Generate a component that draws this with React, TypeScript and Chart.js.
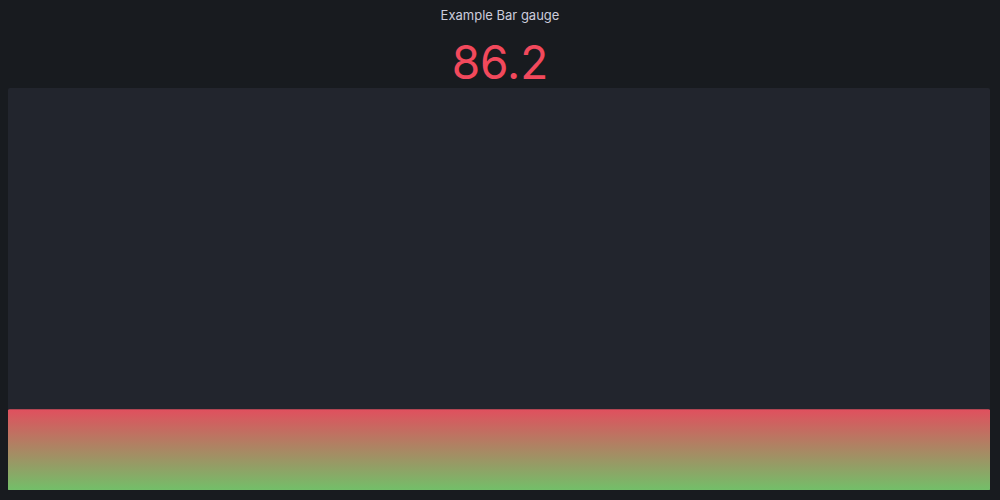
import React, { useRef, useEffect } from 'react';
import { Chart, registerables } from 'chart.js';

Chart.register(...registerables);

const categories = ['A-series'];
const values = [86.2];
const title = 'Example Bar gauge';
const displayValue = '86.2';
// scale max chosen so the bar fills the same share of the panel as in the reference
const scaleMax = 431;

export default function App() {
    const canvasRef = useRef<HTMLCanvasElement>(null);

    useEffect(() => {
        document.body.style.margin = '0';
        const canvas = canvasRef.current;
        if (!canvas) return;
        const chart = new Chart(canvas, {
            type: 'bar',
            data: {
                labels: categories,
                datasets: [{
                    data: values,
                    barPercentage: 1,
                    categoryPercentage: 1,
                    borderRadius: 2,
                    borderSkipped: false,
                    backgroundColor: (ctx: any) => {
                        const area = ctx.chart.chartArea;
                        if (!area) return '#e0505e';
                        const yScale = ctx.chart.scales.y;
                        const top = yScale.getPixelForValue(values[0]);
                        const g = ctx.chart.ctx.createLinearGradient(0, area.bottom, 0, top);
                        g.addColorStop(0, '#73bf69');
                        g.addColorStop(1, '#e0505e');
                        return g;
                    },
                }],
            },
            options: {
                animation: false,
                responsive: false,
                maintainAspectRatio: false,
                layout: { padding: 0 },
                plugins: { legend: { display: false }, tooltip: { enabled: false } },
                scales: {
                    x: { display: false },
                    y: { display: false, min: 0, max: scaleMax },
                },
            },
        });
        return () => chart.destroy();
    }, []);

    return (
        <div style={{ position: 'relative', width: 1000, height: 500, background: '#181b1f', fontFamily: 'Inter, sans-serif' }}>
            <div style={{ position: 'absolute', top: 7, width: '100%', textAlign: 'center', color: '#ccccdc', fontSize: 13 }}>{title}</div>
            <div style={{ position: 'absolute', top: 34, width: '100%', textAlign: 'center', color: '#f2495c', fontSize: 46, lineHeight: '56px' }}>{displayValue}</div>
            <div style={{ position: 'absolute', left: 8, top: 88, width: 982, height: 402, background: '#22252d', borderRadius: 2 }}>
                <canvas ref={canvasRef} width={982} height={402} style={{ width: 982, height: 402, display: 'block' }} />
            </div>
        </div>
    );
}
